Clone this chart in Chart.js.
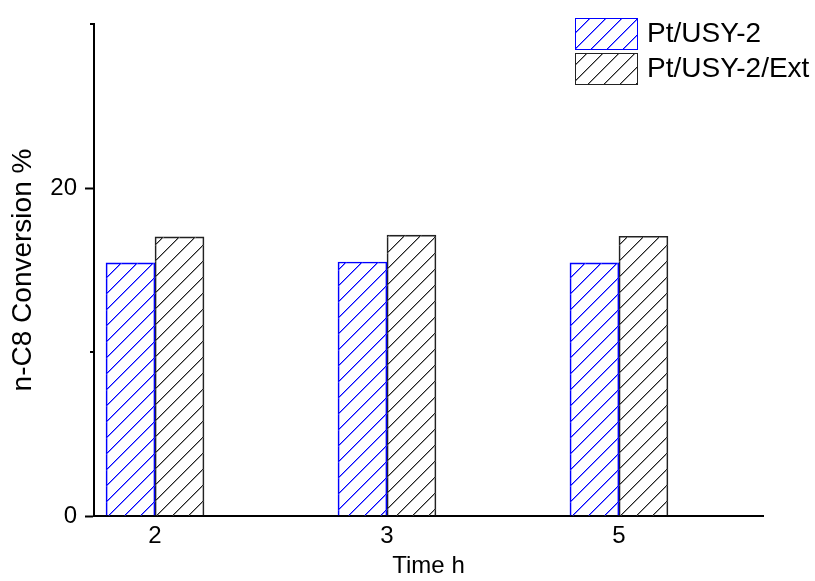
<!DOCTYPE html>
<html>
<head>
<meta charset="utf-8">
<script src="https://cdn.jsdelivr.net/npm/chart.js@4.4.0/dist/chart.umd.min.js"></script>
<style>
  html, body { margin: 0; padding: 0; background: #fff; }
  #wrap { width: 815px; height: 581px; }
</style>
</head>
<body>
<div id="wrap"><canvas id="myChart" width="815" height="581"></canvas></div>
<script>
// DATA
const timeLabels = ["2", "3", "5"];
const catalystNames = ["Pt/USY-2", "Pt/USY-2/Ext"];
const usyValues = [15.43, 15.49, 15.43];
const extValues = [17.02, 17.13, 17.06];
const yMajorTicks = [0, 20];
const yMinorTicks = [10, 30];

const FONT = "'Liberation Sans', Arial, sans-serif";
const ctx = document.querySelector("#myChart");
const ctx2d = ctx.getContext("2d");

// HATCH PATTERNS - "/" lines, 16px period, soft edge like the original
function makeHatch(color, edge) {
  const c = document.createElement("canvas");
  c.width = 16;
  c.height = 16;
  const g = c.getContext("2d");
  for (let i = 0; i < 16; i++) {
    g.fillStyle = edge;
    g.fillRect((i + 1) % 16, 15 - i, 1, 1);
    g.fillStyle = color;
    g.fillRect(i, 15 - i, 1, 1);
  }
  return ctx2d.createPattern(c, "repeat");
}
const blueHatch = makeHatch("#0000ff", "#7f7fff");
const blackHatch = makeHatch("#222222", "#9a9a9a");
const barColors = ["#0000ff", "#222222"];
const barFills = [blueHatch, blackHatch];

// MINOR TICKS ON Y
const minorTicks = {
  id: "minorTicks",
  afterDraw(chart) {
    const y = chart.scales.y;
    const c = chart.ctx;
    c.save();
    c.strokeStyle = "#000";
    c.lineWidth = 2;
    yMinorTicks.forEach((v) => {
      const py = Math.round(y.getPixelForValue(v));
      c.beginPath();
      c.moveTo(y.right - 4, py);
      c.lineTo(y.right, py);
      c.stroke();
    });
    c.restore();
  },
};

// LEGEND (top right)
const hatchLegend = {
  id: "hatchLegend",
  afterDraw(chart) {
    const c = chart.ctx;
    c.save();
    chart.data.datasets.forEach((ds, i) => {
      const top = 18 + i * 35;
      c.fillStyle = ds.backgroundColor;
      c.fillRect(575, top, 62, 31);
      c.strokeStyle = ds.borderColor;
      c.lineWidth = 1;
      c.strokeRect(575.5, top + 0.5, 62, 31);
      c.fillStyle = "#000";
      c.font = "28px " + FONT;
      c.textBaseline = "middle";
      c.textAlign = "left";
      c.fillText(ds.label, 647, top + 16);
    });
    c.restore();
  },
};

const chart = new Chart(ctx, {
  type: "bar",
  data: {
    datasets: [
      {
        label: catalystNames[0],
        data: usyValues.map((v, i) => ({ x: i, y: v })),
        backgroundColor: barFills[0],
        borderColor: barColors[0],
        borderWidth: 1,
        barThickness: 49,
      },
      {
        label: catalystNames[1],
        data: extValues.map((v, i) => ({ x: i, y: v })),
        backgroundColor: barFills[1],
        borderColor: barColors[1],
        borderWidth: 1,
        barThickness: 49,
      },
    ],
  },
  options: {
    responsive: false,
    animation: false,
    layout: { padding: { top: 24, right: 52, bottom: 0, left: 0 } },
    plugins: {
      legend: { display: false },
      tooltip: { enabled: false },
    },
    scales: {
      x: {
        type: "linear",
        offset: false,
        min: -0.263,
        max: 2.621,
        afterBuildTicks: (s) => {
          s.ticks = timeLabels.map((_, i) => ({ value: i }));
        },
        afterFit: (s) => {
          s.height = 65;
        },
        border: { display: true, color: "#000", width: 2 },
        grid: { display: true, offset: false, drawOnChartArea: false, drawTicks: false },
        ticks: {
          callback: (v) => timeLabels[v],
          color: "#000",
          font: { family: FONT, size: 24 },
          padding: 6,
          maxRotation: 0,
          autoSkip: false,
        },
        title: {
          display: true,
          text: "Time h",
          color: "#000",
          font: { family: FONT, size: 24 },
          padding: 0,
        },
      },
      y: {
        min: 0,
        max: 30,
        afterBuildTicks: (s) => {
          s.ticks = yMajorTicks.map((v) => ({ value: v }));
        },
        afterFit: (s) => {
          s.width = 94;
        },
        border: { display: true, color: "#000", width: 2 },
        grid: {
          display: true,
          drawOnChartArea: false,
          drawTicks: true,
          tickLength: 9,
          tickColor: "#000",
          tickWidth: 2,
        },
        ticks: {
          color: "#000",
          font: { family: FONT, size: 24 },
          padding: 8,
        },
        title: {
          display: true,
          text: "n-C8 Conversion %",
          color: "#000",
          font: { family: FONT, size: 28 },
          padding: { top: 6, bottom: 0 },
        },
      },
    },
  },
  plugins: [minorTicks, hatchLegend],
});
</script>
</body>
</html>
